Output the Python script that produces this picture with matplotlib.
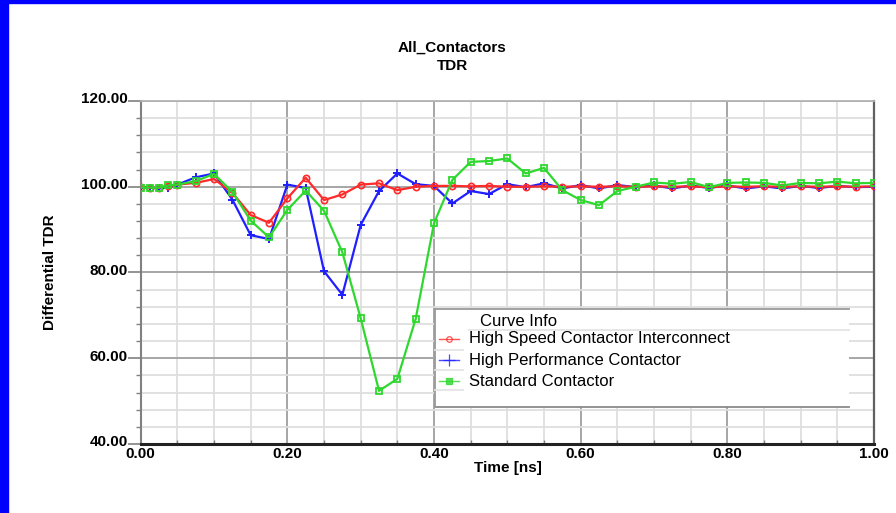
import matplotlib
matplotlib.use('Agg')
import matplotlib.pyplot as plt
import matplotlib.transforms as mtransforms
from matplotlib.patches import Rectangle
from matplotlib.lines import Line2D
from matplotlib.ticker import MultipleLocator, FormatStrFormatter

plt.rcParams['font.family'] = ['Liberation Sans', 'DejaVu Sans']

# sample times [ns]
time_ns = [0.0, 0.0125, 0.025, 0.0375, 0.05, 0.075, 0.1, 0.125, 0.15, 0.175,
           0.2, 0.225, 0.25, 0.275, 0.3, 0.325, 0.35, 0.375, 0.4, 0.425,
           0.45, 0.475, 0.5, 0.525, 0.55, 0.575, 0.6, 0.625, 0.65, 0.675,
           0.7, 0.725, 0.75, 0.775, 0.8, 0.825, 0.85, 0.875, 0.9, 0.925,
           0.95, 0.975, 1.0]

high_speed = [100.0, 99.8, 99.8, 100.2, 100.5, 100.9, 101.8, 98.6, 93.4, 91.6,
              97.3, 102.1, 96.9, 98.2, 100.5, 100.8, 99.2, 100.0, 100.2, 100.2,
              100.1, 100.2, 100.0, 100.0, 100.1, 100.0, 100.1, 100.0, 100.1, 100.0,
              100.1, 100.0, 100.1, 99.9, 100.1, 100.0, 100.1, 100.0, 100.1, 100.0,
              100.1, 100.0, 100.1]

high_perf = [99.8, 99.8, 99.6, 99.8, 100.5, 102.2, 103.1, 97.0, 88.7, 87.8,
             100.5, 99.7, 80.3, 74.8, 91.1, 99.0, 103.1, 100.6, 100.2, 96.1,
             99.0, 98.3, 100.6, 99.9, 100.8, 99.6, 100.4, 99.6, 100.4, 99.9,
             100.3, 99.6, 100.3, 99.7, 100.3, 99.6, 100.1, 99.6, 100.2, 99.7,
             100.2, 99.9, 100.0]

standard = [99.8, 99.8, 99.8, 100.3, 100.5, 101.3, 103.0, 98.8, 92.1, 88.2,
            94.6, 99.1, 94.4, 84.7, 69.3, 52.4, 55.2, 69.2, 91.5, 101.6,
            105.8, 106.0, 106.6, 103.1, 104.4, 99.2, 96.9, 95.7, 99.0, 100.0,
            101.0, 100.7, 101.1, 99.9, 100.9, 101.0, 100.9, 100.3, 100.9, 100.8,
            101.2, 100.8, 100.9]

names = ['High Speed Contactor Interconnect', 'High Performance Contactor', 'Standard Contactor']
colors = ['#ff2a2a', '#1f1fff', '#2ed82e']

W, H = 896, 513
fig = plt.figure(figsize=(W / 100, H / 100), dpi=100)
fig.patch.set_facecolor('white')

# blue frame on left / top
fig.add_artist(Rectangle((0, 0), 8 / W, 1, transform=fig.transFigure, color='#0000ff', zorder=10))
fig.add_artist(Rectangle((0, 1 - 3 / H), 1, 3 / H, transform=fig.transFigure, color='#0000ff', zorder=10))

ax = fig.add_axes([140.7 / W, 1 - 444 / H, (874 - 140.7) / W, (444 - 101) / H])
ax.set_xlim(0, 1)
ax.set_ylim(40, 120)

# grid
ax.xaxis.set_major_locator(MultipleLocator(0.2))
ax.xaxis.set_minor_locator(MultipleLocator(0.05))
ax.yaxis.set_major_locator(MultipleLocator(20))
ax.yaxis.set_minor_locator(MultipleLocator(4))
ax.xaxis.set_major_formatter(FormatStrFormatter('%.2f'))
ax.yaxis.set_major_formatter(FormatStrFormatter('%.2f'))
ax.grid(True, which='minor', color='#dedede', linewidth=1.3, zorder=0)
ax.grid(True, which='major', color='#a6a6a6', linewidth=1.4, zorder=0)
ax.set_axisbelow(True)

ax.spines['top'].set_color('#b4b4b4')
ax.spines['top'].set_linewidth(1.3)
ax.spines['left'].set_color('#808080')
ax.spines['left'].set_linewidth(1.5)
ax.spines['right'].set_color('#606060')
ax.spines['right'].set_linewidth(1.6)
ax.spines['bottom'].set_color('#222222')
ax.spines['bottom'].set_linewidth(2.2)

ax.tick_params(axis='y', which='major', direction='out', length=9.5, width=1.2,
               color='#808080', pad=0, labelsize=11)
ax.tick_params(axis='y', which='minor', direction='out', length=3.6, width=1.0, color='#808080')
ax.tick_params(axis='x', which='major', direction='in', length=0, pad=2, labelsize=11)
ax.tick_params(axis='x', which='minor', direction='in', length=3, width=1.0, color='#808080')

for lab in ax.get_yticklabels():
    lab.set_fontweight('bold')
    lab.set_transform(lab.get_transform() + mtransforms.ScaledTranslation(0, 3 / 100, fig.dpi_scale_trans))
for lab in ax.get_xticklabels():
    lab.set_fontweight('bold')

ax.plot(time_ns, high_perf, color=colors[1], lw=1.6, marker='+', ms=6, mew=1.4, zorder=3)
ax.plot(time_ns, high_speed, color=colors[0], lw=1.6, marker='o', ms=4.5, mfc='none', mew=1.2, zorder=4)
ax.plot(time_ns, standard, color=colors[2], lw=1.6, marker='s', ms=5, mfc='none', mew=1.3, zorder=5)

# titles and labels
fig.text(452 / W, 1 - 48 / H, 'All_Contactors', ha='center', va='center', fontsize=11, fontweight='bold')
fig.text(452 / W, 1 - 66 / H, 'TDR', ha='center', va='center', fontsize=11, fontweight='bold')
fig.text(508 / W, 1 - 468 / H, 'Time [ns]', ha='center', va='center', fontsize=11, fontweight='bold')
fig.text(50 / W, 1 - 272 / H, 'Differential TDR', ha='center', va='center', rotation=90,
         fontsize=11, fontweight='bold')

# legend box ("Curve Info")
def fx(px):
    return px / W

def fy(py):
    return 1 - py / H

fig.add_artist(Rectangle((fx(435), fy(407)), fx(849) - fx(435), fy(309) - fy(407),
                         transform=fig.transFigure, facecolor='white', edgecolor='none', zorder=6))
for xs, ys, c in [([435, 849], [309, 309], '#9a9a9a'), ([435, 849], [407, 407], '#8a8a8a'),
                  ([435, 435], [309, 407], '#9a9a9a'), ([469, 849], [330, 330], '#e4e4e4'),
                  ([435, 463], [350, 350], '#e4e4e4'), ([435, 463], [370, 370], '#e4e4e4'),
                  ([435, 463], [390, 390], '#e4e4e4')]:
    fig.add_artist(Line2D([fx(v) for v in xs], [fy(v) for v in ys], transform=fig.transFigure,
                          color=c, lw=1.3, zorder=7))
fig.text(fx(480), fy(322), 'Curve Info', ha='left', va='center', fontsize=12, zorder=8)
markers = [('o', 'none'), ('+', None), ('s', None)]
for i, (name, c, (m, mfc)) in enumerate(zip(names, colors, markers)):
    y = fy(339 + 21 * i)
    fig.add_artist(Line2D([fx(439), fx(459)], [y, y], transform=fig.transFigure, color=c, lw=1.0,
                          alpha=0.8, zorder=8))
    fig.add_artist(Line2D([fx(449)], [y], transform=fig.transFigure, color=c, marker=m,
                          ms=4 if m != '+' else 9, mfc=mfc if mfc else c, mew=0.9, alpha=0.8, zorder=8))
    fig.text(fx(469), y, name, ha='left', va='center', fontsize=12, zorder=8)

fig.savefig('out.png', dpi=100, facecolor='white')
